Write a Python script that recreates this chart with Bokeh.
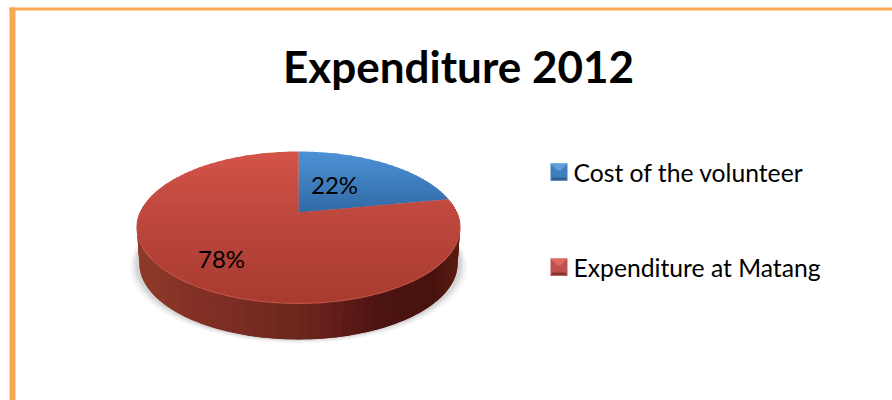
import numpy as np
from bokeh.plotting import figure
from bokeh.models import Range1d
from bokeh.core.properties import value
from bokeh.embed import file_html
from bokeh.resources import INLINE

title_text = "Expenditure 2012"
categories = ["Cost of the volunteer", "Expenditure at Matang"]
shares = [22, 78]
labels = ["22%", "78%"]

W, H = 892, 400
p = figure(width=W, height=H, output_backend="svg", toolbar_location=None,
           x_range=Range1d(0, W), y_range=Range1d(H, 0), min_border=0,
           outline_line_color=None, background_fill_color="white")
p.axis.visible = False
p.grid.visible = False

# perspective projection of the pie disc
CX, CY, A, B, K = 298.0, 212.0, 158.4, 73.0, 0.197
DEPTH = 36.0

def proj(theta):
    x, y = np.sin(theta), np.cos(theta)
    w = 1 + K * y
    return CX + A * x / w, CY - B * y / w

def lerp(stops, t):
    pos = [s[0] for s in stops]
    return tuple(float(np.interp(t, pos, [s[1][i] for s in stops])) for i in range(3))

def hexc(c):
    return "#%02x%02x%02x" % tuple(int(round(v)) for v in c)

def clip_band(px, py, y0, y1):
    def clip(pts, keep, cross):
        out = []
        for i in range(len(pts)):
            a, b = pts[i - 1], pts[i]
            if keep(b):
                if not keep(a):
                    out.append(cross(a, b))
                out.append(b)
            elif keep(a):
                out.append(cross(a, b))
        return out
    def cross_at(yv):
        return lambda a, b: (a[0] + (yv - a[1]) * (b[0] - a[0]) / (b[1] - a[1]), yv)
    pts = list(zip(px, py))
    pts = clip(pts, lambda q: q[1] >= y0, cross_at(y0))
    if pts:
        pts = clip(pts, lambda q: q[1] <= y1, cross_at(y1))
    return pts

# soft shadow below the pie
th = np.linspace(0, 2 * np.pi, 200)
tx, ty = proj(th)
for grow, alpha in [(7, .04), (5, .05), (3, .07), (1.5, .10)]:
    p.patch(CX + (tx - CX) * (1 + grow / 160), ty + DEPTH + grow * 0.55,
            fill_color="#555555", fill_alpha=alpha, line_color=None)

# side wall
wall_stops = [(0.0, (142, 58, 42)), (0.15, (132, 50, 38)), (0.3, (124, 44, 36)),
              (0.5, (108, 40, 28)), (0.62, (98, 28, 26)), (0.75, (76, 20, 16)),
              (0.92, (72, 18, 14)), (1.0, (90, 30, 16))]
edges = np.linspace(np.pi * 1.55, np.pi * 0.45, 61)
wxs, wys, wcs = [], [], []
for j, (t0, t1) in enumerate(zip(edges[:-1], edges[1:])):
    # every strip reaches a little under the next one, so no seams show
    t1x = edges[min(j + 2, len(edges) - 1)]
    mid = np.linspace(t0, t1x, 5)
    mx, my = proj(mid)
    bx = CX + (mx - CX) * 0.985
    wxs.append(list(mx) + list(bx[::-1]))
    wys.append(list(my) + list((my + DEPTH)[::-1]))
    xm = proj((t0 + t1) / 2)[0]
    wcs.append(hexc(lerp(wall_stops, (xm - (CX - 162)) / 324)))
p.patches(wxs, wys, fill_color=wcs, line_color=None)

# pie top drawn from the shares
fracs = np.cumsum([0] + shares) / sum(shares) * 2 * np.pi
ramps = [
    [(0.0, (76, 146, 214)), (1.0, (50, 106, 165))],
    [(0.0, (212, 84, 74)), (0.4, (190, 72, 62)), (1.0, (168, 58, 48))],
]
ranges = [(151.0, 212.0), (151.0, 303.0)]
for i in range(len(shares)):
    arc = np.linspace(fracs[i], fracs[i + 1], 160)
    ax, ay = proj(arc)
    px = np.r_[CX, ax]
    py = np.r_[CY, ay]
    bands = np.arange(py.min(), py.max() + 2, 2.0)
    xs, ys, cs = [], [], []
    for y0, y1 in zip(bands[:-1], bands[1:]):
        # overlap the next band by a pixel
        pts = clip_band(px, py, y0, y1 + 1.0)
        if len(pts) < 3:
            continue
        xs.append([q[0] for q in pts])
        ys.append([q[1] for q in pts])
        t = ((y0 + y1) / 2 - ranges[i][0]) / (ranges[i][1] - ranges[i][0])
        cs.append(hexc(lerp(ramps[i], t)))
    p.patches(xs, ys, fill_color=cs, line_color=None)

# light rim on the near edge
rim = np.linspace(np.pi * 0.5, np.pi * 1.5, 120)
rx, ry = proj(rim)
p.line(rx, ry, line_color="#c9554a", line_width=1.2, line_alpha=0.8)

# slice labels
FONT = value("Lato")
p.text([334, 221], [184, 258], text=labels, text_font=FONT, text_font_size="24px",
       text_color="#000000", text_align="center", text_baseline="middle")

# title
p.text([458], [65], text=[title_text], text_font=FONT, text_font_size="44px",
       text_font_style="bold", text_color="#000000", text_align="center",
       text_baseline="middle")

# legend
marker_cols = [("#5f9fdc", "#3f7fbd", "#2c5f92"), ("#dc6a60", "#c0504d", "#8a2f2b")]
marker_top = [163, 258]
for (light, mid, dark), top, name in zip(marker_cols, marker_top, categories):
    l, r, b, e = 550, 567, top + 17, 7
    p.patch([l, r, r, l], [top, top, b, b], fill_color=mid, line_color=None)
    p.patch([l, r, r - e, l + e], [top, top, top + 7, top + 7], fill_color=light, line_color=None)
    p.patch([l, r, r - 2, l + 2], [b, b, b - 3, b - 3], fill_color=dark, line_color=None)
    p.text([573], [top + 9], text=[name], text_font=FONT, text_font_size="24.7px",
           text_color="#000000", text_align="left", text_baseline="middle")

# page frame
p.quad(left=[9], right=[15], top=[7], bottom=[H], fill_color="#f9a856", line_color=None)
p.quad(left=[9], right=[W], top=[7], bottom=[10], fill_color="#f9a856", line_color=None)

open("out.html", "w").write(file_html(p, INLINE))
